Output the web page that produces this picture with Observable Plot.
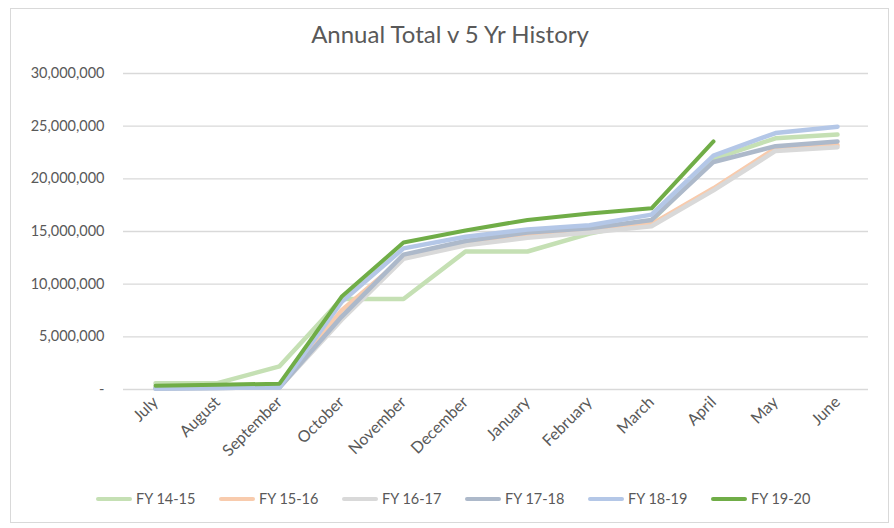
<!DOCTYPE html>
<html>
<head>
<meta charset="utf-8">
<script src="https://cdn.jsdelivr.net/npm/d3@7"></script>
<script src="https://cdn.jsdelivr.net/npm/@observablehq/plot@0.6"></script>
<style>
  html, body { margin: 0; padding: 0; background: #fff; }
  #frame { position: absolute; left: 10px; top: 8px; width: 879px; height: 515px; border: 1px solid #d9d9d9; box-sizing: border-box; }
  #title { position: absolute; left: 0; top: 19px; width: 900px; text-align: center; font-family: Lato, sans-serif; font-size: 24px; color: #595959; }
  #chart { position: absolute; left: 0; top: 55px; }
  #legend { position: absolute; left: 0; top: 490px; width: 894px; display: flex; justify-content: center; gap: 36px; font-family: Lato, sans-serif; font-size: 14.5px; color: #595959; }
  .item { display: flex; align-items: center; gap: 4px; width: 87px; white-space: nowrap; }
  .sw { width: 36px; height: 4px; border-radius: 2px; flex: none; }
  #chart svg g[aria-label="x-axis tick label"] { font-size: 16px; }
  #chart svg g[aria-label="y-axis tick label"] { font-size: 14.5px; }
</style>
</head>
<body>
<div id="frame"></div>
<div id="title">Annual Total v 5 Yr History</div>
<div id="chart"></div>
<div id="legend"></div>
<script>
const months = ["July","August","September","October","November","December","January","February","March","April","May","June"];
const seriesNames = ["FY 14-15","FY 15-16","FY 16-17","FY 17-18","FY 18-19","FY 19-20"];
const seriesColors = ["#c5e0b4","#f8cbad","#d9d9d9","#adb9ca","#b4c7e7","#70ad47"];
const yTicks = [0, 5000000, 10000000, 15000000, 20000000, 25000000, 30000000];

const fy1415 = [600000, 600000, 2200000, 8600000, 8600000, 13100000, 13100000, 14800000, 16000000, 21900000, 23850000, 24200000];
const fy1516 = [150000, 200000, 250000, 7500000, 12500000, 13800000, 14600000, 15000000, 15700000, 19100000, 22900000, 23200000];
const fy1617 = [100000, 150000, 200000, 6600000, 12400000, 13700000, 14400000, 14900000, 15500000, 18900000, 22650000, 23000000];
const fy1718 = [100000, 150000, 200000, 6900000, 12800000, 14100000, 14900000, 15300000, 16100000, 21600000, 23100000, 23550000];
const fy1819 = [100000, 150000, 200000, 8300000, 13400000, 14500000, 15200000, 15600000, 16600000, 22200000, 24350000, 24950000];
const fy1920 = [350000, 450000, 550000, 8800000, 13950000, 15100000, 16100000, 16700000, 17200000, 23550000];

const allSeries = [fy1415, fy1516, fy1617, fy1718, fy1819, fy1920];
const widths = [4.5, 4.5, 4.5, 4.5, 4.5, 4];

const lineMarks = allSeries.map((vals, i) => {
  const rows = vals.map((v, j) => ({month: months[j], value: v}));
  return Plot.line(rows, {x: "month", y: "value", stroke: seriesColors[i], strokeWidth: widths[i], strokeLinecap: "round", strokeLinejoin: "round"});
});

const chart = Plot.plot({
  width: 894,
  height: 410,
  marginTop: 18,
  marginBottom: 76,
  marginLeft: 123,
  marginRight: 26,
  style: {fontFamily: "Lato, sans-serif", fontSize: "14.5px", color: "#595959", background: "transparent"},
  x: {type: "point", domain: months, padding: 0.5, label: null},
  y: {domain: [0, 30000000], label: null},
  marks: [
    Plot.gridY(yTicks, {stroke: "#d9d9d9", strokeOpacity: 1, strokeWidth: 1.3}),
    Plot.axisY(yTicks, {tickSize: 0, tickPadding: 19, label: null, tickFormat: d => d === 0 ? "-" : d3.format(",")(d)}),
    Plot.axisX({tickSize: 0, tickRotate: -45, tickPadding: 10, label: null}),
    ...lineMarks
  ]
});
document.getElementById("chart").appendChild(chart);

const legend = document.getElementById("legend");
seriesNames.forEach((name, i) => {
  const item = document.createElement("div");
  item.className = "item";
  const sw = document.createElement("div");
  sw.className = "sw";
  sw.style.background = seriesColors[i];
  const t = document.createElement("span");
  t.textContent = name;
  item.appendChild(sw);
  item.appendChild(t);
  legend.appendChild(item);
});
</script>
</body>
</html>
